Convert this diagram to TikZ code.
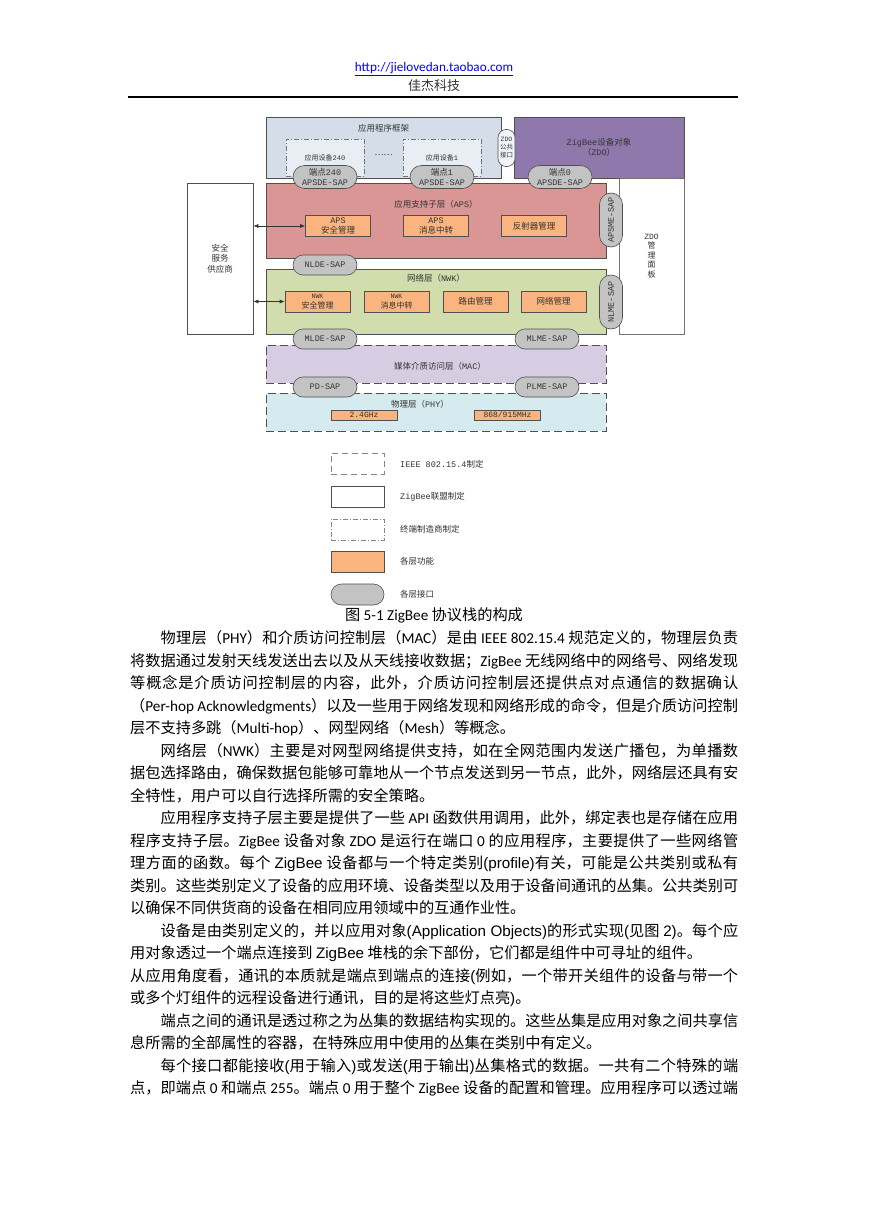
\documentclass[tikz,border=0pt]{standalone}
\usepackage{fontspec}
\setmainfont{Noto Sans CJK SC}
\newfontfamily\lat{Carlito}
\newfontfamily\ar{Liberation Sans}
\newfontfamily\dm{Liberation Mono}
\usetikzlibrary{arrows.meta,shapes.misc}
\XeTeXlinebreaklocale "zh"
\XeTeXlinebreakskip=0pt plus 2pt minus 0.6pt

\definecolor{appblue}{HTML}{D5DDE9}
\definecolor{devblue}{HTML}{E9EEF5}
\definecolor{zdopurple}{HTML}{8F78AC}
\definecolor{apsred}{HTML}{D99694}
\definecolor{funcorange}{HTML}{F9B47F}
\definecolor{nwkgreen}{HTML}{D1DDAC}
\definecolor{maclilac}{HTML}{D6CDE2}
\definecolor{phycyan}{HTML}{D6EBF0}
\definecolor{sapgray}{HTML}{C3C3C3}
\definecolor{edgegray}{HTML}{505050}
\definecolor{inkgray}{HTML}{333333}
\definecolor{linkblue}{HTML}{0000FF}

\newcommand\diagfont{\fontsize{8.5}{10.5}\selectfont}
\newcommand\bodyfont{\fontsize{15.2}{22.5}\selectfont}

\tikzset{
  layerbox/.style={draw=edgegray, line width=0.7pt, inner sep=0pt, text=inkgray},
  funcbox/.style={draw=edgegray, line width=0.6pt, fill=funcorange, minimum width=65pt,
    minimum height=21pt, inner sep=0pt, align=center, font=\diagfont, text=inkgray},
  sapnode/.style={rounded rectangle, draw=edgegray, line width=0.6pt, fill=sapgray,
    minimum width=64pt, minimum height=21pt, inner sep=0pt, align=center, font=\diagfont, text=inkgray},
  lbl/.style={font=\diagfont, inner sep=0pt, align=center, text=inkgray},
  legbox/.style={draw=edgegray, line width=0.6pt, minimum width=53pt, minimum height=21pt, inner sep=0pt},
  bodytext/.style={text width=608pt, align=justify, inner sep=0pt, font=\bodyfont},
  biarrow/.style={{Latex[length=5pt,width=4pt]}-{Latex[length=5pt,width=4pt]}, line width=0.6pt, draw=black!80}
}

\begin{document}
\begin{tikzpicture}[x=1pt,y=-1pt]
\useasboundingbox[fill=white] (0,0) rectangle (869,1228);

% header
\node[font=\lat\fontsize{13.2}{15}\selectfont, text=linkblue, inner sep=0pt] (url) at (434,69) {\underline{http://jielovedan.taobao.com}};
\node[font=\fontsize{13}{15}\selectfont, text=black!80, inner sep=0pt] (corp) at (434,86) {佳杰科技};
\coordinate (ruleL) at (128,97);
\coordinate (ruleR) at (738,97);
\draw[line width=1.2pt] (ruleL) -- (ruleR);

% application framework and ZDO
\node[layerbox, fill=appblue, minimum width=235pt, minimum height=61pt] (app) at (383.5,147.5) {};
\node[lbl] (apptitle) at (383.5,128) {应用程序框架};
\node[layerbox, draw=edgegray!80, fill=devblue, dash pattern=on 5pt off 2pt on 1pt off 2pt,
  minimum width=78pt, minimum height=37pt, font=\fontsize{7}{8}\selectfont] (dev240) at (325,157.5) {应用设备{\dm 240}};
\node[layerbox, draw=edgegray!80, fill=devblue, dash pattern=on 5pt off 2pt on 1pt off 2pt,
  minimum width=78pt, minimum height=37pt, font=\fontsize{7}{8}\selectfont] (dev1) at (442,157.5) {应用设备{\dm 1}};
\node[lbl] (devdots) at (383.5,155) {……};
\node[layerbox, fill=zdopurple, minimum width=170pt, minimum height=61pt, font=\diagfont, align=center] (zdo) at (599,147.5) {{\dm ZigBee}设备对象\\（{\dm ZDO}）};
\node[draw=edgegray, line width=0.6pt, fill=devblue!60, rounded corners=8pt, minimum width=17pt,
  minimum height=37pt, inner sep=0pt, align=center, text=inkgray, font=\fontsize{6.5}{8}\selectfont] (zdopub) at (506.5,148) {{\dm ZDO}\\公共\\接口};

% side boxes
\node[layerbox, fill=white, minimum width=66pt, minimum height=151pt, font=\diagfont, align=center] (secsvc) at (220,258.5) {安全\\服务\\供应商};
\node[layerbox, draw=edgegray!80, fill=white, minimum width=65pt, minimum height=156pt,
  font=\fontsize{8}{9.6}\selectfont, align=center] (zdomgmt) at (651.5,256) {{\dm ZDO}\\管\\理\\面\\板};

% APS
\node[layerbox, fill=apsred, minimum width=340pt, minimum height=75pt] (aps) at (436,220.5) {};
\node[lbl] (apstitle) at (436,204) {应用支持子层（{\dm APS}）};
\node[funcbox] (apssec) at (338,226) {{\dm APS}\\安全管理};
\node[funcbox] (apsmsg) at (436,226) {{\dm APS}\\消息中转};
\node[funcbox] (apsrefl) at (534,226) {反射器管理};

% NWK
\node[layerbox, fill=nwkgreen, minimum width=340pt, minimum height=65pt] (nwk) at (436,301.5) {};
\node[lbl] (nwktitle) at (436,278) {网络层（{\dm NWK}）};
\node[funcbox, font=\fontsize{8}{9.5}\selectfont] (nwksec) at (317.5,301.5) {{\dm\fontsize{6.5}{8}\selectfont NWK}\\安全管理};
\node[funcbox, font=\fontsize{8}{9.5}\selectfont] (nwkmsg) at (396.5,301.5) {{\dm\fontsize{6.5}{8}\selectfont NWK}\\消息中转};
\node[funcbox] (nwkroute) at (475.5,301.5) {路由管理};
\node[funcbox] (nwkmgmt) at (553.5,301.5) {网络管理};

% MAC and PHY
\node[layerbox, fill=maclilac, dash pattern=on 8pt off 4pt, minimum width=340pt, minimum height=38pt] (mac) at (436,364) {};
\node[lbl] (mactitle) at (440,366) {媒体介质访问层（{\dm MAC}）};
\node[layerbox, fill=phycyan, dash pattern=on 8pt off 4pt, minimum width=340pt, minimum height=38pt] (phy) at (436,412) {};
\node[lbl] (phytitle) at (420,404) {物理层（{\dm PHY}）};
\node[funcbox, minimum width=66pt, minimum height=10pt, font=\dm\fontsize{8}{9}\selectfont] (band24) at (364,415) {2.4GHz};
\node[funcbox, minimum width=66pt, minimum height=10pt, font=\dm\fontsize{8}{9}\selectfont] (band868) at (507.5,415) {868/915MHz};

% service access points
\node[sapnode, minimum height=23pt] (ep240) at (325,177) {端点{\dm 240}\\{\dm APSDE-SAP}};
\node[sapnode, minimum height=23pt] (ep1) at (442,177) {端点{\dm 1}\\{\dm APSDE-SAP}};
\node[sapnode, minimum height=23pt] (ep0) at (560,177) {端点{\dm 0}\\{\dm APSDE-SAP}};
\node[sapnode, rotate=90, minimum width=54pt, minimum height=23pt, font=\dm\diagfont] (apsme) at (611,220) {APSME-SAP};
\node[sapnode, minimum height=20pt, font=\dm\diagfont] (nlde) at (325,265) {NLDE-SAP};
\node[sapnode, rotate=90, minimum width=54pt, minimum height=23pt, font=\dm\diagfont] (nlme) at (611,302) {NLME-SAP};
\node[sapnode, minimum height=20pt, font=\dm\diagfont] (mlde) at (325,339) {MLDE-SAP};
\node[sapnode, minimum height=20pt, font=\dm\diagfont] (mlme) at (547,339) {MLME-SAP};
\node[sapnode, minimum height=20pt, font=\dm\diagfont] (pdsap) at (325,387) {PD-SAP};
\node[sapnode, minimum height=20pt, font=\dm\diagfont] (plme) at (547,387) {PLME-SAP};

% security provider links
\draw[biarrow] (secsvc.east |- apssec) -- (apssec.west);
\draw[biarrow] (secsvc.east |- nwksec) -- (nwksec.west);

% legend
\node[legbox, draw=edgegray!70, dash pattern=on 6pt off 4pt] (leg1) at (357.5,463.5) {};
\node[legbox] (leg2) at (357.5,496.5) {};
\node[legbox, draw=edgegray!70, dash pattern=on 5pt off 2pt on 1pt off 2pt] (leg3) at (357.5,529.5) {};
\node[legbox, fill=funcorange] (leg4) at (357.5,561.5) {};
\node[sapnode, minimum width=53pt] (leg5) at (357.5,594.5) {};
\node[lbl, anchor=west] (leg1t) at (400,464) {{\dm IEEE 802.15.4}制定};
\node[lbl, anchor=west] (leg2t) at (400,497) {{\dm ZigBee}联盟制定};
\node[lbl, anchor=west] (leg3t) at (400,529) {终端制造商制定};
\node[lbl, anchor=west] (leg4t) at (400,561) {各层功能};
\node[lbl, anchor=west] (leg5t) at (400,594) {各层接口};

% caption
\node[font=\fontsize{15.2}{17}\selectfont, inner sep=0pt] (caption) at (434,615) {图 {\lat 5-1 ZigBee} 协议栈的构成};

% body text
\node[bodytext, anchor=base west] (body) at (130,643.8) {%
\hspace*{2em}物理层（{\lat PHY}）和介质访问控制层（{\lat MAC}）是由 {\lat IEEE 802.15.4} 规范定义的，物理层负责\linebreak
将数据通过发射天线发送出去以及从天线接收数据；{\lat ZigBee} 无线网络中的网络号、网络发现\linebreak
等概念是介质访问控制层的内容，此外，介质访问控制层还提供点对点通信的数据确认\linebreak
（{\lat Per-hop Acknowledgments}）以及一些用于网络发现和网络形成的命令，但是介质访问控制\linebreak
层不支持多跳（{\lat Multi-hop}）、网型网络（{\lat Mesh}）等概念。\par
\hspace*{2em}网络层（{\lat NWK}）主要是对网型网络提供支持，如在全网范围内发送广播包，为单播数\linebreak
据包选择路由，确保数据包能够可靠地从一个节点发送到另一节点，此外，网络层还具有安\linebreak
全特性，用户可以自行选择所需的安全策略。\par
\hspace*{2em}应用程序支持子层主要是提供了一些 {\lat API} 函数供用调用，此外，绑定表也是存储在应用\linebreak
程序支持子层。{\lat ZigBee} 设备对象 {\lat ZDO} 是运行在端口 {\lat 0} 的应用程序，主要提供了一些网络管\linebreak
理方面的函数。每个 {\ar ZigBee} 设备都与一个特定类别{\ar (profile)}有关，可能是公共类别或私有\linebreak
类别。这些类别定义了设备的应用环境、设备类型以及用于设备间通讯的丛集。公共类别可\linebreak
以确保不同供货商的设备在相同应用领域中的互通作业性。\par
\hspace*{2em}设备是由类别定义的，并以应用对象{\ar (Application Objects)}的形式实现{\ar (}见图 {\ar 2)}。每个应\linebreak
用对象透过一个端点连接到 {\ar ZigBee} 堆栈的余下部份，它们都是组件中可寻址的组件。\par
从应用角度看，通讯的本质就是端点到端点的连接{\ar (}例如，一个带开关组件的设备与带一个\linebreak
或多个灯组件的远程设备进行通讯，目的是将这些灯点亮{\ar )}。\par
\hspace*{2em}端点之间的通讯是透过称之为丛集的数据结构实现的。这些丛集是应用对象之间共享信\linebreak
息所需的全部属性的容器，在特殊应用中使用的丛集在类别中有定义。\par
\hspace*{2em}每个接口都能接收{\ar (}用于输入{\ar )}或发送{\ar (}用于输出{\ar )}丛集格式的数据。一共有二个特殊的端\linebreak
点，即端点 {\lat 0} 和端点 {\lat 255}。端点 {\lat 0} 用于整个 {\lat ZigBee} 设备的配置和管理。应用程序可以透过端\parfillskip=0pt\par};
\end{tikzpicture}
\end{document}
